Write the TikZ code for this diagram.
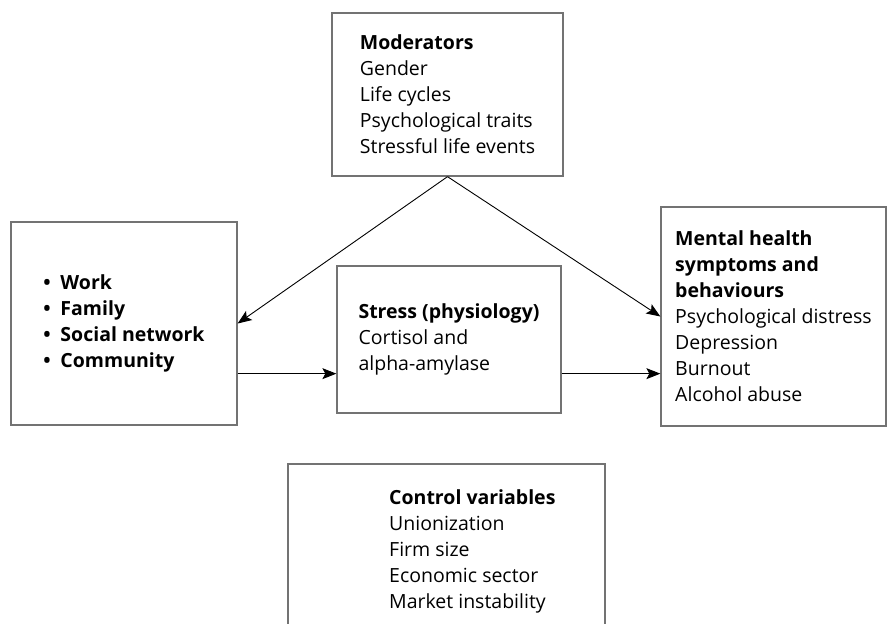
\documentclass[tikz,border=0pt]{standalone}
\usepackage{fontspec}
\setmainfont{Open Sans}
\usetikzlibrary{arrows.meta}
\tikzset{
	boxline/.style = {draw = black!55, line width = 1.3pt},
	box/.style = {boxline, align = left, inner sep = 0pt},
	arr/.style = {-{Stealth[length = 14pt, width = 11pt, inset = 3pt]}, line width = 0.9pt}
}
\newcommand{\bul}[1]{\textbf{•\enskip#1}}
\begin{document}
\begin{tikzpicture}[x = 1pt, y = -1pt, font = \fontsize{19.5pt}{26pt}\selectfont]
	\useasboundingbox (0,0) rectangle (887,624);

	\node[box, minimum width = 231pt, minimum height = 163pt] (mod) at (447.5, 94.5)
		{\textbf{Moderators}\\ Gender\\ Life cycles\\ Psychological traits\\ Stressful life events};
	\node[box, minimum width = 226pt, minimum height = 203pt] (env) at (124, 323.5)
		{\bul{Work}\\ \bul{Family}\\ \bul{Social network}\\ \bul{Community}};
	\node[box, minimum width = 224pt, minimum height = 147pt] (stress) at (449, 339.5)
		{\textbf{Stress (physiology)}\\ Cortisol and\\ alpha-amylase};
	\node[box, minimum width = 225pt, minimum height = 219pt] (mh) at (773.5, 316.5)
		{\textbf{Mental health}\\ \textbf{symptoms and}\\ \textbf{behaviours}\\ Psychological distress\\ Depression\\ Burnout\\ Alcohol abuse};

	\draw[boxline] (288,464) rectangle (605,700);
	\node[align = left, anchor = north west, inner sep = 0pt] (ctrl) at (389, 489)
		{\textbf{Control variables}\\ Unionization\\ Firm size\\ Economic sector\\ Market instability};

	\draw[arr] (mod.south) -- (env.east);
	\draw[arr] (mod.south) -- (mh.west);
	\draw[arr] ([yshift = 52pt]env.south east) -- ([yshift = 52pt]env.south east -| stress.west);
	\draw[arr] ([yshift = 40pt]stress.south east) -- ([yshift = 40pt]stress.south east -| mh.west);

\end{tikzpicture}
\end{document}
